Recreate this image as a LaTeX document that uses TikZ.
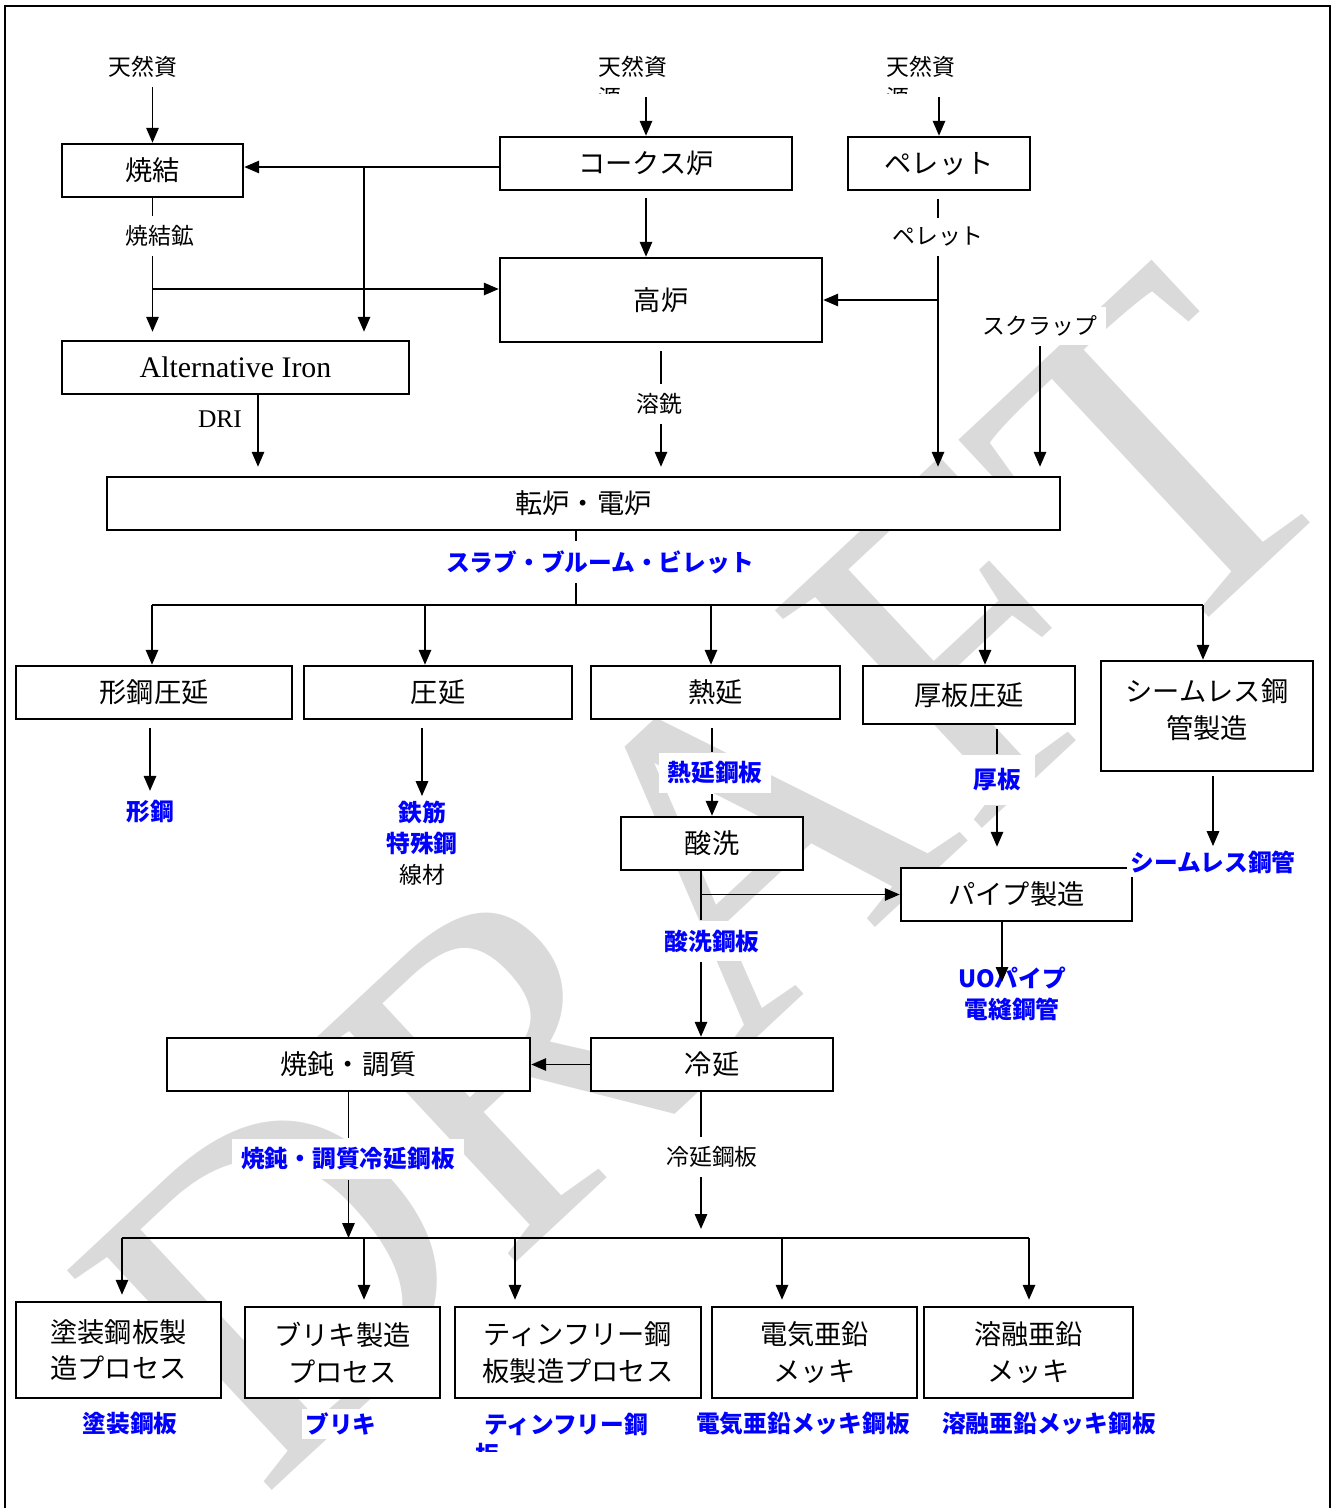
\documentclass[tikz,border=0pt]{standalone}
\usepackage{fontspec}
\setmainfont{Liberation Serif}
\newfontfamily\jpfont{Noto Sans CJK JP}
\usetikzlibrary{arrows.meta}
\definecolor{wmgray}{RGB}{218,218,218}
\newcommand{\boxfont}{\jpfont\fontsize{15.5}{21}\selectfont}
\newcommand{\lblfont}{\jpfont\fontsize{13}{18}\selectfont}
\newcommand{\prodfont}{\jpfont\bfseries\fontsize{13.5}{18}\selectfont}
\newcommand{\wmfont}{\rmfamily\fontsize{261}{261}\selectfont}
\tikzset{
  wd/.style={minimum width=#1*0.02cm},
  ht/.style={minimum height=#1*0.02cm},
  procbox/.style={draw,fill=white,line width=1.4pt,inner sep=0pt,align=center,font=\boxfont},
  lbl/.style={fill=white,inner sep=5pt,align=center,font=\lblfont},
  prod/.style={lbl,text=blue,font=\prodfont},
  arr/.style={-{Triangle[length=8.5pt,width=7pt]}},
  wmark/.style={text=wmgray,inner sep=0pt,font=\wmfont}
}
\newcommand{\procnode}[4][]{\node[procbox,#1] at (#2) (#3) {#4}}
\newcommand{\lblnode}[4][]{\node[lbl,#1] at (#2) (#3) {#4}}
\newcommand{\prodnode}[4][]{\node[prod,#1] at (#2) (#3) {#4}}

\begin{document}
\begin{tikzpicture}[x=0.02cm,y=-0.02cm,line width=1.1pt]
  \useasboundingbox (0,0) rectangle (1332,1508);
  \node[wmark,anchor=base west,rotate=43] (wm) at (262,1500) {DRAFT};
  \draw[line width=0.8pt] (5,1508) -- (5,6) -- (1330,6) -- (1330,1508);

  \procnode[wd=181,ht=53]{152.5,170.5}{sinter}{焼結};
  \procnode[wd=292,ht=53]{646,163.5}{coke}{コークス炉};
  \procnode[wd=182,ht=53]{939,163.5}{pellet}{ペレット};
  \procnode[wd=322,ht=84]{661,300}{bf}{高炉};
  \procnode[wd=347,ht=53,font=\rmfamily\fontsize{17}{20}\selectfont]{235.5,367.5}{altiron}{Alternative Iron};
  \procnode[wd=953,ht=53]{583.5,503.5}{conv}{転炉・電炉};

  \procnode[wd=276,ht=53]{154,692.5}{shape}{形鋼圧延};
  \procnode[wd=268,ht=53]{438,692.5}{rolling}{圧延};
  \procnode[wd=249,ht=53]{715.5,692.5}{hotroll}{熱延};
  \procnode[wd=212,ht=58]{969,695}{plate}{厚板圧延};
  \procnode[wd=212,ht=110,text depth=0.3cm]{1207,716}{seamless}{シームレス鋼\\管製造};
  \procnode[wd=182,ht=53]{712,843.5}{pickling}{酸洗};
  \procnode[wd=231,ht=53]{1016.5,894.5}{pipe}{パイプ製造};
  \procnode[wd=242,ht=53]{712,1064.5}{coldroll}{冷延};
  \procnode[wd=363,ht=53]{348.5,1064.5}{anneal}{焼鈍・調質};

  \procnode[wd=205,ht=96]{118.5,1350}{coated}{塗装鋼板製\\造プロセス};
  \procnode[wd=195,ht=91]{342.5,1352.5}{tinplate}{ブリキ製造\\プロセス};
  \procnode[wd=246,ht=91]{578,1352.5}{tfs}{ティンフリー鋼\\板製造プロセス};
  \procnode[wd=205,ht=91]{814.5,1352.5}{egalv}{電気亜鉛\\メッキ};
  \procnode[wd=209,ht=91]{1028.5,1352.5}{hgalv}{溶融亜鉛\\メッキ};

  \lblnode{143,67}{src1}{天然資};
  \lblnode{633,67}{src2}{天然資};
  \lblnode{921,67}{src3}{天然資};
  \lblnode{160,236}{sinterore}{焼結鉱};
  \lblnode{938,237}{pelletout}{ペレット};
  \lblnode{1040,326}{scrap}{スクラップ};
  \lblnode{659,404}{hotmetal}{溶銑};
  \lblnode[font=\rmfamily\fontsize{14.5}{18}\selectfont]{220,419}{dri}{DRI};
  \lblnode{712,1157}{crsheet}{冷延鋼板};

  \prodnode{600,562}{slab}{スラブ・ブルーム・ビレット};
  \prodnode{150,812}{shapes}{形鋼};
  \prodnode[inner sep=2pt]{422,812}{rebar}{鉄筋};
  \prodnode[inner sep=2pt]{422,843}{special}{特殊鋼};
  \lblnode[inner sep=2pt]{422,875}{wire}{線材};
  \prodnode{715,773}{hrsheet}{熱延鋼板};
  \prodnode[inner sep=8pt]{997,780}{thickplate}{厚板};
  \prodnode{712,941}{pksheet}{酸洗鋼板};
  \prodnode[inner sep=2pt]{1213,862}{smlspipe}{シームレス鋼管};
  \prodnode[inner sep=2pt]{1012,994}{uopipe}{UOパイプ\\電縫鋼管};
  \prodnode{348,1159}{ansheet}{焼鈍・調質冷延鋼板};
  \prodnode[inner sep=2pt]{130,1424}{coatedout}{塗装鋼板};
  \prodnode[inner sep=2pt]{341,1424}{tinout}{ブリキ};
  \prodnode[inner sep=2pt]{566,1424}{tfsout}{ティンフリー鋼};
  \prodnode[inner sep=2pt]{803,1424}{egout}{電気亜鉛メッキ鋼板};
  \prodnode[inner sep=2pt]{1049,1424}{hgout}{溶融亜鉛メッキ鋼板};

  \begin{scope}
    \clip (590,86) rectangle (960,93);
    \node[lbl,fill=none] (src2cut) at (610,98) {源};
    \node[lbl,fill=none] (src3cut) at (898,98) {源};
  \end{scope}
  \begin{scope}
    \clip (470,1441) rectangle (510,1451);
    \node[prod,fill=none] (tfscut) at (487.5,1455) {板};
  \end{scope}

  \coordinate (cokeout) at (500,167);
  \coordinate (cokejn) at (364,167);
  \coordinate (orejn) at (152.5,289);
  \coordinate (drijn) at (258,394);
  \coordinate (slabjn) at (576,605);
  \coordinate (pkout) at (701,870);
  \coordinate (pipejn) at (701,894.5);
  \coordinate (pipeout) at (1002,921);
  \coordinate (uotip) at (1002,982);
  \coordinate (crout) at (701,1091);
  \coordinate (crtip) at (701,1229);
  \coordinate (ansjn) at (348.5,1238);

  \draw[arr] (src1.south -| sinter.north) -- (sinter.north);
  \draw[arr,shorten <=0.2cm] (src2.south -| coke.north) -- (coke.north);
  \draw[arr,shorten <=0.2cm] (src3.south -| pellet.north) -- (pellet.north);

  \draw[arr] (cokeout) -- (cokeout -| sinter.east);
  \draw[arr,shorten >=0.16cm] (cokejn) -- (cokejn |- altiron.north);
  \draw (sinter.south) -- (sinter.south |- sinterore.north);
  \draw[arr,shorten >=0.16cm] (sinter.south |- sinterore.south) -- (sinter.south |- altiron.north);
  \draw[arr] (orejn) -- (orejn -| bf.west);
  \draw[arr,shorten <=0.14cm] (coke.south) -- (coke.south |- bf.north);

  \draw[shorten <=0.16cm] (pelletout.north |- pellet.south) -- (pelletout.north);
  \draw[arr,shorten >=0.18cm] (pelletout.south) -- (pelletout.south |- conv.north);
  \draw[arr] (pelletout.south |- bf.east) -- (bf.east);
  \draw[arr,shorten >=0.18cm] (scrap.south) -- (scrap.south |- conv.north);
  \draw[shorten <=0.16cm] (bf.south) -- (bf.south |- hotmetal.north);
  \draw[arr,shorten >=0.18cm] (bf.south |- hotmetal.south) -- (bf.south |- conv.north);
  \draw[arr,shorten >=0.18cm] (drijn) -- (drijn |- conv.north);

  \draw (slabjn |- conv.south) -- (slabjn |- slab.north)
        (slabjn |- slab.south) -- (slabjn);
  \foreach \x/\t in {152/shape,425/rolling,711/hotroll,985/plate,1203/seamless}{
    \coordinate (bus-\t) at (\x,605);
    \draw[arr] (bus-\t) -- (bus-\t |- \t.north);
  }
  \draw (bus-shape) -- (bus-seamless);

  \draw[arr,shorten <=0.16cm] (shape.south -| shapes.north) -- (shapes.north);
  \draw[arr,shorten <=0.16cm] (rolling.south -| rebar.north) -- (rebar.north);
  \draw[shorten <=0.16cm] (pickling.north |- hotroll.south) -- (pickling.north |- hrsheet.north);
  \draw[arr] (pickling.north |- hrsheet.south) -- (pickling.north);
  \draw[shorten <=0.08cm] (thickplate.north |- plate.south) -- (thickplate.north);
  \draw[arr,shorten >=0.4cm] (thickplate.south) -- (thickplate.south |- pipe.north);
  \draw[arr,shorten <=0.08cm] (smlspipe.north |- seamless.south) -- (smlspipe.north);

  \draw (pkout) -- (pkout |- pksheet.north);
  \draw[arr] (pipejn) -- (pipe.west);
  \draw[arr] (pkout |- pksheet.south) -- (pkout |- coldroll.north);
  \draw[arr] (pipeout) -- (uotip);

  \draw[arr] (coldroll.west) -- (anneal.east);
  \draw (anneal.south) -- (anneal.south |- ansheet.north);
  \draw[arr] (anneal.south |- ansheet.south) -- (ansjn);
  \draw (crout) -- (crout |- crsheet.north);
  \draw[arr] (crout |- crsheet.south) -- (crtip);

  \foreach \x/\t in {122/coated,364/tinplate,515/tfs,782/egalv,1029/hgalv}{
    \coordinate (bus-\t) at (\x,1238);
    \draw[arr,shorten >=0.12cm] (bus-\t) -- (bus-\t |- \t.north);
  }
  \draw (bus-coated) -- (bus-hgalv);
\end{tikzpicture}
\end{document}
